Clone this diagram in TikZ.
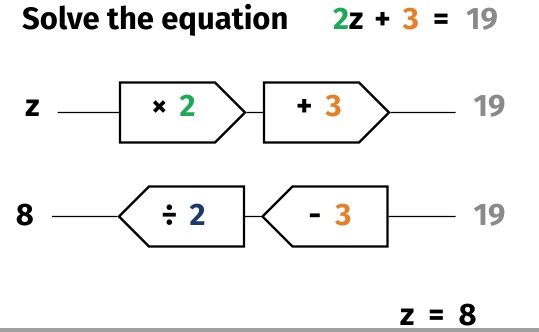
\documentclass[tikz,border=0pt]{standalone}
\usepackage{fontspec}
\setmainfont{Fira Sans}
\usepackage{xcolor}
\usepackage{tikz}
\definecolor{eqgreen}{HTML}{1DAA55}
\definecolor{eqorange}{HTML}{E87F25}
\definecolor{eqgray}{HTML}{8A8A8A}
\definecolor{eqnavy}{HTML}{1B3A6B}
\usetikzlibrary{shapes.symbols, positioning}

\begin{document}
\begin{tikzpicture}[x=1pt, y=-1pt,
    bigtext/.style={font=\fontsize{31}{33}\bfseries\selectfont},
    machine/.style={bigtext, draw, fill=white, signal, signal pointer angle=90, line width=2.2pt, minimum width=125pt, minimum height=60pt, inner sep=0pt},
    endlabel/.style={bigtext, inner sep=0pt, outer sep=18pt},
    toprow/.style={text height=21pt, text depth=14pt},
    botrow/.style={text height=21pt, text depth=3pt},
    wire/.style={line width=1.2pt}]
    \useasboundingbox (0,0) rectangle (539,332);

    % heading
    \node[bigtext, anchor=base west, inner sep=0pt] (title) at (22,30) {Solve the equation};
    \node[bigtext, anchor=base west, inner sep=0pt] (eqn) at (333,30) {{\color{eqgreen}2}z\hspace{11pt}+\hspace{12pt}{\color{eqorange}3}\hspace{14pt}=\hspace{17pt}{\color{eqgray}19}};

    % forwards
    \node[endlabel, toprow] (zin) at (32.5,112.5) {z};
    \node[machine, toprow, signal to=east] (mul) at (167.5,112.5) {\hspace{12pt}×\hspace{12pt}{\color{eqgreen}2}};
    \node[machine, toprow, signal to=east] (add) at (311.5,112.5) {\hspace{15pt}+\hspace{13pt}{\color{eqorange}3}};
    \node[endlabel, toprow, text=eqgray] (out) at (489.5,112.5) {19};
    \draw[wire] (zin) -- (mul);
    \draw[wire] (mul) -- (add);
    \draw[wire] (add) -- (out);

    % backwards
    \node[endlabel, botrow] (ans) at (25,216.5) {8};
    \node[machine, botrow, signal to=west] (div) at (196.5,216.5) {÷\hspace{12pt}{\color{eqnavy}2}\hspace{26pt}\mbox{}};
    \node[machine, botrow, signal to=west] (sub) at (340,216.5) {-\hspace{14pt}{\color{eqorange}3}\hspace{20pt}\mbox{}};
    \node[endlabel, botrow, text=eqgray] (back) at (489.5,216.5) {19};
    \draw[wire] (ans) -- (div);
    \draw[wire] (div) -- (sub);
    \draw[wire] (sub) -- (back);

    \node[bigtext, anchor=base west, inner sep=0pt] (result) at (400,325) {z\hspace{14pt}=\hspace{14pt}8};

    \fill[gray!75] (0,328) rectangle (539,332);
\end{tikzpicture}
\end{document}
